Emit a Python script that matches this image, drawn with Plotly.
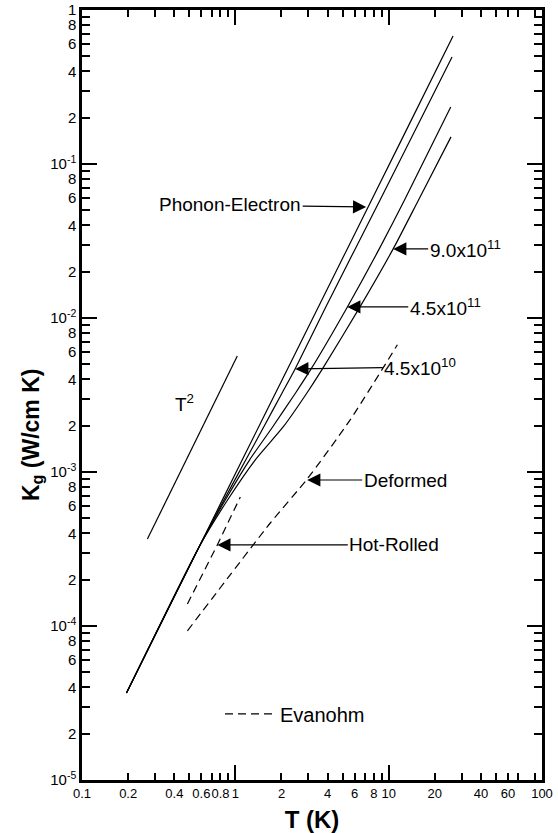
import numpy as np
import plotly.graph_objects as go

# ---------------- data ----------------
# Phonon-Electron limit
T_pe = [0.195, 0.39, 0.58, 1.11, 2.19, 5.37, 12.4, 26.3]
K_pe = [3.67e-5, 1.48e-4, 3.26e-4, 1.20e-3, 4.67e-3, 2.81e-2, 0.150, 0.678]
# 4.5x10^10
T_a = [0.195, 0.58, 0.843, 1.171, 1.531, 2.018, 2.453, 3.89, 6.05, 8.79, 25.9]
K_a = [3.67e-5, 3.26e-4, 6.58e-4, 1.20e-3, 1.96e-3, 3.26e-3, 4.67e-3, 0.0118, 0.0281, 0.0584, 0.495]
# 4.5x10^11
T_b = [0.195, 0.58, 0.86, 1.24, 1.75, 2.47, 3.12, 5.38, 8.68, 12.69, 25.4]
K_b = [3.67e-5, 3.26e-4, 6.58e-4, 1.20e-3, 1.96e-3, 3.26e-3, 4.67e-3, 0.0118, 0.0281, 0.0584, 0.2345]
# 9.0x10^11
T_c = [0.195, 0.58, 0.89, 1.35, 2.05, 2.93, 3.70, 6.50, 10.70, 15.66, 25.5]
K_c = [3.67e-5, 3.26e-4, 6.58e-4, 1.20e-3, 1.96e-3, 3.26e-3, 4.67e-3, 0.0118, 0.0281, 0.0584, 0.150]
# T^2 guide line
T_sq = [0.267, 1.03]
K_sq = [3.67e-4, 5.66e-3]
# Evanohm, hot-rolled
T_hot = [0.487, 0.763, 1.078]
K_hot = [1.39e-4, 3.36e-4, 6.88e-4]
# Evanohm, deformed
T_def = [0.487, 1.7, 2.94, 5.61, 11.4]
K_def = [9.3e-5, 4.7e-4, 9.0e-4, 2.18e-3, 6.7e-3]

# tick values / labels
x_tickvals = [0.1, 0.2, 0.4, 0.6, 0.8, 1, 2, 4, 6, 8, 10, 20, 40, 60, 100]
x_ticktext = ["0.1", "0.2", "0.4", "0.6", "0.8", "1", "2", "4", "6", "8", "10", "20", "40", "60", "100"]
x_minor = [0.3, 0.5, 0.7, 0.9, 3, 5, 7, 9, 30, 50, 70, 90]
x_decades = [0.1, 1, 10, 100]

y_tickvals = [1e-5, 2e-5, 4e-5, 6e-5, 8e-5,
              1e-4, 2e-4, 4e-4, 6e-4, 8e-4,
              1e-3, 2e-3, 4e-3, 6e-3, 8e-3,
              1e-2, 2e-2, 4e-2, 6e-2, 8e-2,
              1e-1, 2e-1, 4e-1, 6e-1, 8e-1, 1]
y_ticktext = ["10<sup>-5</sup>", "2", "4", "6", "8",
              "10<sup>-4</sup>", "2", "4", "6", "8",
              "10<sup>-3</sup>", "2", "4", "6", "8",
              "10<sup>-2</sup>", "2", "4", "6", "8",
              "10<sup>-1</sup>", "2", "4", "6", "8", "1"]
y_minor = [3e-5, 5e-5, 7e-5, 9e-5, 3e-4, 5e-4, 7e-4, 9e-4,
           3e-3, 5e-3, 7e-3, 9e-3, 3e-2, 5e-2, 7e-2, 9e-2,
           3e-1, 5e-1, 7e-1, 9e-1]
y_decades = [1e-5, 1e-4, 1e-3, 1e-2, 1e-1, 1]

FONT = "Liberation Sans, Arial, sans-serif"

fig = go.Figure()
solid = dict(color="black", width=1.2, shape="spline", smoothing=0.6)
dashed = dict(color="black", width=1.2, dash="8px,5px")

for T, K in [(T_pe, K_pe), (T_a, K_a), (T_b, K_b), (T_c, K_c), (T_sq, K_sq)]:
    fig.add_trace(go.Scatter(x=T, y=K, mode="lines", line=solid,
                             showlegend=False, hoverinfo="skip"))
fig.add_trace(go.Scatter(x=T_hot, y=K_hot, mode="lines", line=dashed,
                         name="Evanohm", showlegend=True, hoverinfo="skip"))
fig.add_trace(go.Scatter(x=T_def, y=K_def, mode="lines", line=dict(dashed, shape="spline", smoothing=0.6),
                         showlegend=False, hoverinfo="skip"))
# invisible traces so the overlay axes (long decade ticks) are drawn
fig.add_trace(go.Scatter(x=[1], y=[1e-3], xaxis="x2", yaxis="y", mode="markers",
                         marker=dict(opacity=0), showlegend=False, hoverinfo="skip"))
fig.add_trace(go.Scatter(x=[1], y=[1e-3], xaxis="x", yaxis="y2", mode="markers",
                         marker=dict(opacity=0), showlegend=False, hoverinfo="skip"))

tick_common = dict(ticks="inside", tickwidth=1.5, tickcolor="black",
                   showgrid=False, zeroline=False, automargin=False)

fig.update_layout(
    width=558, height=833,
    margin=dict(l=82, r=16, t=10, b=53),
    paper_bgcolor="white", plot_bgcolor="white",
    font=dict(family=FONT, color="black"),
    xaxis=dict(type="log", range=[-1, 2], tickmode="array",
               tickvals=x_tickvals, ticktext=x_ticktext, ticklen=7, tickangle=0,
               showline=True, linewidth=2.5, linecolor="black", mirror="ticks",
               tickfont=dict(size=13, family=FONT, color="black"),
               minor=dict(tickvals=x_minor, ticks="inside", ticklen=7,
                          tickwidth=1.5, tickcolor="black", showgrid=False),
               title=dict(text="<b>T (K)</b>", font=dict(size=24, family=FONT), standoff=12),
               **tick_common),
    xaxis2=dict(type="log", range=[-1, 2], overlaying="x", anchor="y", side="bottom",
                tickmode="array", tickvals=x_decades, ticklen=15, showticklabels=False,
                showline=False, mirror="ticks", **tick_common),
    yaxis=dict(type="log", range=[-5, 0], tickmode="array",
               tickvals=y_tickvals, ticktext=y_ticktext, ticklen=8,
               showline=True, linewidth=2.5, linecolor="black", mirror="ticks",
               tickfont=dict(size=15, family=FONT, color="black"),
               minor=dict(tickvals=y_minor, ticks="inside", ticklen=8,
                          tickwidth=1.5, tickcolor="black", showgrid=False),
               **tick_common),
    yaxis2=dict(type="log", range=[-5, 0], overlaying="y", anchor="x", side="left",
                tickmode="array", tickvals=y_decades, ticklen=15, showticklabels=False,
                showline=False, mirror="ticks", **tick_common),
    legend=dict(x=0.30, y=0.086, xanchor="left", yanchor="middle",
                bgcolor="rgba(0,0,0,0)", font=dict(size=20, family=FONT),
                itemwidth=50),
)

arrow = dict(showarrow=True, arrowhead=2, arrowsize=2.2, arrowwidth=1.2,
             arrowcolor="black", axref="pixel", ayref="pixel",
             font=dict(size=19, family=FONT, color="black"))
L = np.log10
labels = [
    ("Phonon-Electron", 7.135, 0.0526, -136, -2),
    ("9.0x10<sup>11</sup>", 10.7, 0.0281, 72, 0),
    ("4.5x10<sup>11</sup>", 5.37, 0.0118, 98, 0),
    ("4.5x10<sup>10</sup>", 2.46, 4.67e-3, 125, -2),
    ("Deformed", 2.94, 8.87e-4, 98, 0),
    ("Hot-Rolled", 0.763, 3.36e-4, 177, 0),
]
for text, tx, ky, ax, ay in labels:
    fig.add_annotation(x=L(tx), y=L(ky), text=text, ax=ax, ay=ay, **arrow)

fig.add_annotation(x=L(0.395), y=L(2.81e-3), text="T<sup>2</sup>", showarrow=False,
                   xanchor="left", yanchor="middle",
                   font=dict(size=19, family=FONT, color="black"))
fig.add_annotation(x=-0.145, y=0.449, xref="paper", yref="paper",
                   text="<b>K<sub>g</sub> (W/cm K)</b>", textangle=-90,
                   showarrow=False, font=dict(size=23, family=FONT, color="black"))

fig.write_html("out.html")
